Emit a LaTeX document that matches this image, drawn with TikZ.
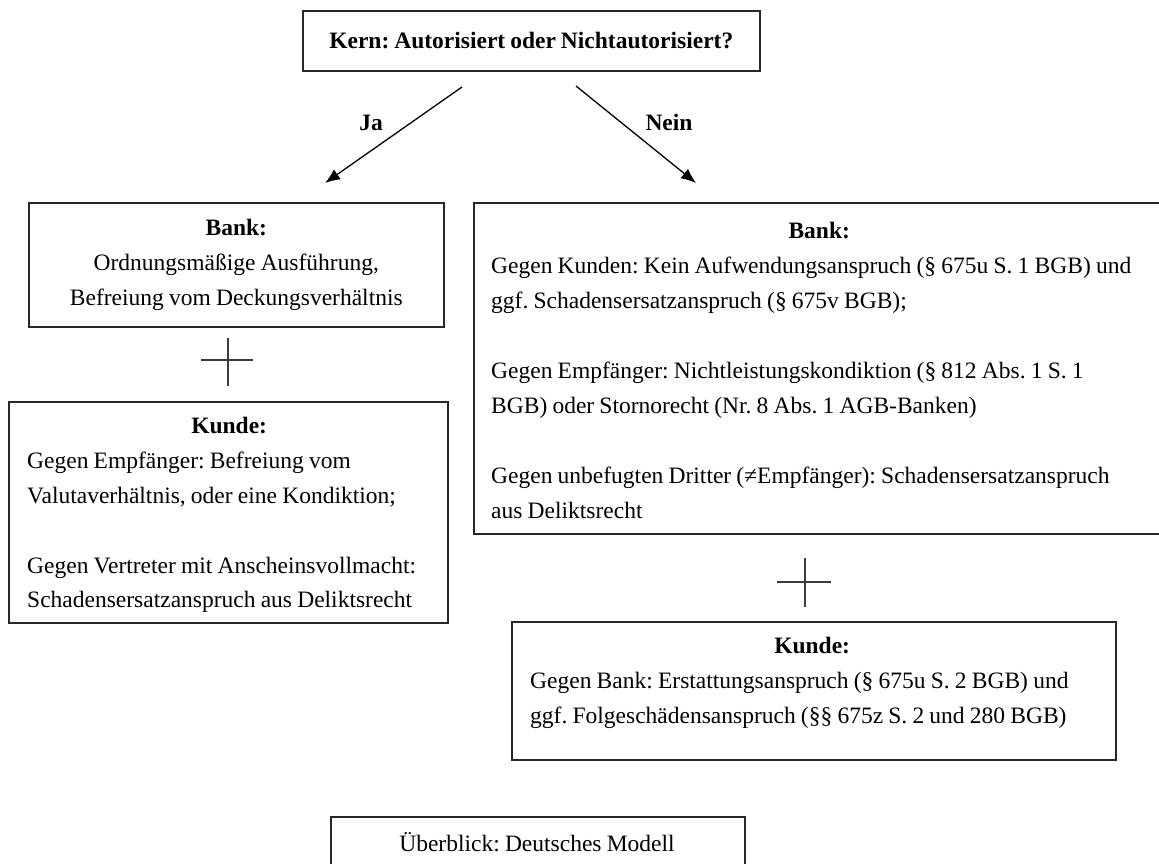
\documentclass[tikz,border=0pt]{standalone}
\usepackage{fontspec}
\setmainfont[WordSpace=0.85]{Liberation Serif}
\frenchspacing
\usetikzlibrary{arrows.meta,positioning}
\definecolor{Ink}{RGB}{0,0,0}
\definecolor{FrameGray}{RGB}{40,40,40}
\definecolor{CrossGray}{RGB}{60,60,60}
\tikzset{
  >=Latex,
  boxframe/.style={draw=FrameGray,line width=1.6pt,fill=white,anchor=north west,inner sep=0pt,text=Ink},
  body/.style={text=Ink,font=\fontsize{23.5}{34.9}\selectfont,inner sep=0pt,anchor=west,align=left,
    execute at begin node={\spaceskip=5.2pt plus 1pt}},
  cbody/.style={body,anchor=center,align=center},
  head/.style={text=Ink,font=\bfseries\fontsize{23.5}{28}\selectfont,inner sep=0pt},
  branch/.style={-{Latex[length=15pt,width=12pt]},line width=1.3pt,draw=Ink},
  cross/.style={line width=1.2pt,draw=CrossGray}
}

\begin{document}
\begin{tikzpicture}[x=1pt,y=-1pt]
  \useasboundingbox (0,0) rectangle (1159,863);
  \node[boxframe,head,minimum width=457pt,minimum height=60pt] (kern) at (302,10) {Kern: Autorisiert oder Nichtautorisiert?};
  \coordinate (jaFrom) at (462,87);
  \coordinate (jaTo) at (325,183);
  \coordinate (neinFrom) at (576,86);
  \coordinate (neinTo) at (696,183);
  \draw[branch] (jaFrom) -- (jaTo);
  \draw[branch] (neinFrom) -- (neinTo);
  \node[head] (ja) at (371,123) {Ja};
  \node[head] (nein) at (669,122) {Nein};

  \node[boxframe,cbody,anchor=north west,minimum width=415pt,minimum height=124pt] (bankJa) at (28,202) {\textbf{Bank:}\\Ordnungsmäßige Ausführung,\\Befreiung vom Deckungsverhältnis};
  \draw[cross] (201,360) -- (253,360) (228,338) -- (228,386);
  \node[boxframe,minimum width=439pt,minimum height=221pt] (kundeJa) at (8,401) {};
  \node[body,text width=415pt] (kundeJaText) at (27,515) {\makebox[404pt]{\bfseries Kunde:}\\
    Gegen Empfänger: Befreiung vom\\
    Valutaverhältnis, oder eine Kondiktion;\\[34.9pt]
    Gegen Vertreter mit Anscheinsvollmacht:\\
    Schadensersatzanspruch aus Deliktsrecht};

  \node[boxframe,minimum width=700pt,minimum height=331pt] (bankNein) at (473,202) {};
  \node[body,text width=680pt] (bankNeinText) at (491,370.5) {\makebox[656pt]{\bfseries Bank:}\\
    Gegen Kunden: Kein Aufwendungsanspruch (§ 675u S. 1 BGB) und\\
    ggf. Schadensersatzanspruch (§ 675v BGB);\\[34.9pt]
    Gegen Empfänger: Nichtleistungskondiktion (§ 812 Abs. 1 S. 1\\
    BGB) oder Stornorecht (Nr. 8 Abs. 1 AGB-Banken)\\[34.9pt]
    Gegen unbefugten Dritter (≠Empfänger): Schadensersatzanspruch\\
    aus Deliktsrecht};
  \draw[cross] (777,582) -- (831,582) (805,558) -- (805,607);
  \node[boxframe,minimum width=604pt,minimum height=138pt] (kundeNein) at (511,621) {};
  \node[body,text width=580pt] (kundeNeinText) at (530,683) {\makebox[564pt]{\bfseries Kunde:}\\
    Gegen Bank: Erstattungsanspruch (§ 675u S. 2 BGB) und\\
    ggf. Folgeschädensanspruch (§§ 675z S. 2 und 280 BGB)};

  \node[boxframe,minimum width=414pt,minimum height=80pt] (modell) at (330,816) {};
  \node[cbody] (modellText) at (537,842) {Überblick: Deutsches Modell};
\end{tikzpicture}
\end{document}
